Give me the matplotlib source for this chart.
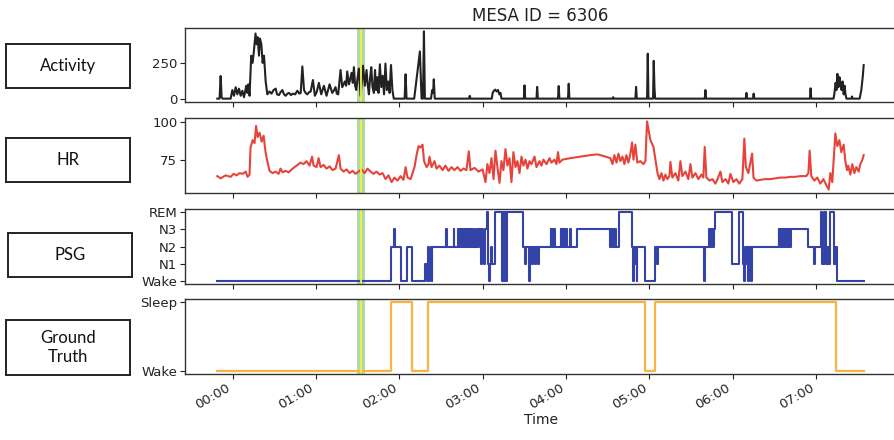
import matplotlib
matplotlib.use("Agg")
import matplotlib.pyplot as plt
from matplotlib.patches import Rectangle

# ---------------- data (time in minutes after 00:00) ----------------
title = "MESA ID = 6306"
panel_names = ["Activity", "HR", "PSG", "Ground\nTruth"]

activity_t = [-11.0, -9.4, -8.6, -7.9, -7.2, -1.4, -0.2, 1.0, 2.2, 3.4, 4.6, 5.8, 7.0, 8.2, 9.8, 10.6, 11.3, 12.2,
              13.4, 14.4, 15.3, 16.5, 17.3, 18.0, 19.0, 19.7, 20.7, 21.6, 22.6, 23.8, 25.0, 26.6, 28.0, 29.5, 31.0,
              32.0, 33.4, 34.5, 35.8, 37.0, 38.2, 39.5, 40.6, 42.0, 43.4, 45.0, 46.6, 48.0, 49.0, 50.2, 51.4, 52.5,
              53.8, 55.0, 56.2, 57.8, 59.2, 60.5, 62.1, 63.8, 65.7, 67.6, 68.7, 69.8, 71.7, 72.8, 74.1, 75.0, 76.0,
              77.7, 78.9, 80.8, 81.7, 82.5, 83.7, 84.5, 85.6, 86.5, 87.3, 88.2, 89.0, 90.0, 90.9, 92.1, 93.0, 93.8,
              95.2, 96.4, 97.2, 98.1, 99.0, 99.8, 100.7, 101.7, 102.5, 103.3, 104.2, 105.0, 106.0, 107.0, 108.0,
              109.0, 110.0, 111.0, 112.0, 113.0, 114.0, 115.0, 116.0, 123.8, 124.5, 125.2, 130.7, 134.8, 136.0,
              137.0, 137.7, 138.4, 142.8, 143.6, 144.3, 144.8, 145.5,
              170.2, 170.7, 171.2,
              186.5, 187.2, 188.0, 189.0, 190.0, 191.0, 192.0, 192.8, 193.5,
              209.6, 210.1, 210.6, 218.7, 219.2, 219.7, 234.2, 234.7, 235.2, 241.4, 241.9, 242.4,
              273.4, 273.9, 274.4, 289.9, 290.4, 290.9, 298.3, 298.8, 299.3, 302.6, 303.1, 303.6, 304.1,
              339.8, 340.3, 340.8, 369.3, 369.8, 370.3, 374.5, 375.0, 375.5, 415.5, 416.0, 416.5,
              432.5, 433.2, 434.0, 434.6, 435.3, 436.0, 436.8, 437.5, 438.3, 439.0, 439.8, 440.5, 441.1, 441.8,
              445.3, 445.8, 446.3, 451.3, 452.5, 453.5, 454.2]
activity_v = [0, 0, 158, 10, 0, 0, 60, 20, 80, 30, 70, 20, 55, 10, 90, 40, 100, 20,
              300, 250, 330, 455, 380, 430, 300, 420, 380, 250, 300, 120, 30, 50, 35, 60, 70,
              30, 25, 45, 60, 30, 20, 35, 40, 25, 35, 30, 55, 35, 40, 225, 60, 40,
              30, 45, 50, 130, 20, 45, 110, 30, 90, 20, 60, 100, 40, 55, 80, 35, 30,
              200, 80, 120, 90, 190, 100, 130, 180, 110, 220, 90, 60, 150, 210, 20, 120, 230,
              90, 200, 100, 30, 150, 220, 80, 40, 200, 60, 150, 40, 240, 80, 160,
              30, 245, 60, 120, 40, 235, 60, 0, 0, 170, 0, 0, 330, 0,
              0, 470, 0, 0, 60, 40, 135, 0,
              0, 20, 0,
              0, 40, 55, 63, 50, 60, 30, 40, 0,
              0, 93, 0, 0, 82, 0, 0, 88, 0, 0, 104, 0,
              0, 10, 0, 0, 82, 0, 0, 314, 0, 0, 264, 80, 0,
              0, 60, 0, 0, 40, 0, 0, 35, 0, 0, 72, 0,
              0, 40, 110, 60, 173, 80, 150, 100, 60, 120, 30, 90, 30, 0,
              0, 15, 0, 0, 60, 150, 234]

hr_t = [-11.0, -8.6, -5.0, -1.4, 0.7, 2.9, 5.0, 7.2, 9.4, 10.8, 12.2, 12.9, 14.4, 15.8, 16.9, 18.0, 19.4, 20.9,
        22.3, 23.7, 25.2, 26.6, 28.8, 30.9, 33.1, 34.5, 36.0, 38.1, 40.3, 43.2, 46.0, 48.9, 51.1, 53.2, 55.4,
        57.2, 58.3, 60.4, 61.9, 63.3, 65.5, 67.6, 69.8, 71.9, 74.1, 76.5, 77.7, 79.9, 82.0, 84.2, 86.3, 88.5,
        90.6, 92.8, 95.0, 97.1, 99.3, 101.4, 103.6, 105.8, 107.9, 110.1, 112.2, 114.4, 116.5, 118.7, 120.9,
        123.0, 124.5, 125.9, 128.1, 129.5, 130.9, 132.4, 133.8, 135.2, 136.7, 137.8, 139.6, 141.0, 141.7,
        143.2, 145.3, 146.8, 148.9, 151.1, 153.2, 155.4, 157.5, 159.7, 161.9, 164.0, 166.2, 168.3, 170.0,
        171.2, 174.1, 177.0, 179.9, 182.0, 183.4, 184.9, 186.3, 187.8, 189.2, 190.6, 192.1, 193.5, 194.9,
        196.4, 197.8, 199.3, 200.7, 202.1, 203.6, 205.0, 206.5, 207.9, 209.3, 210.8, 212.2, 213.7, 215.1,
        217.3, 218.7, 220.9, 222.3, 223.7, 225.9, 228.1, 229.5, 231.6, 233.1, 234.2, 235.2, 237.4, 240.3,
        243.2, 246.8, 250.4, 253.9, 257.5, 262.4, 264.7, 268.3, 271.9, 273.4, 274.8, 276.3, 277.7, 279.1,
        280.6, 282.0, 283.4, 284.9, 286.3, 287.5, 288.5, 289.9, 291.3, 293.5, 295.7, 297.1, 298.3, 299.3,
        300.7, 302.9, 304.3, 305.8, 307.2, 308.6, 310.1, 311.5, 312.9, 314.4, 315.1, 316.5, 318.7, 320.8,
        322.3, 323.7, 325.9, 328.0, 329.5, 330.9, 333.1, 335.2, 337.4, 338.8, 339.8, 341.0, 343.2, 345.3,
        347.5, 349.0, 351.1, 352.5, 354.7, 356.8, 358.3, 360.4, 362.6, 364.7, 366.9, 368.3, 369.4, 371.2,
        373.9, 374.9, 377.0, 379.9, 383.4, 387.0, 390.6, 394.2, 397.8, 401.4, 405.0, 408.6, 412.9, 414.4,
        415.3, 416.5, 418.7, 420.8, 423.0, 425.2, 427.3, 429.0, 430.2, 431.6, 433.8, 435.2, 436.7, 438.1,
        439.8, 441.0, 442.2, 443.1, 444.6, 446.0, 447.5, 448.9, 450.6, 451.8, 453.3, 454.2]
hr_v = [64, 62.5, 64.5, 63.5, 65.5, 64.5, 66, 65.5, 67, 63.5, 65, 83, 88, 86, 97.5, 90, 93, 87,
        91, 80, 73, 67.5, 66, 67, 65.5, 69, 66.5, 67.5, 66.5, 69, 71, 73, 72, 74, 71,
        77, 71, 70, 76, 70, 71.5, 69, 70.5, 68, 69, 78, 69, 67, 68.5, 66, 67.5, 65.5,
        67, 68.5, 66, 69, 67, 65.5, 67, 65, 66, 62, 64.5, 60, 63, 61, 64,
        61.5, 70, 63, 62, 66, 70, 78, 84, 83, 85, 74, 70, 72, 77,
        70, 74, 69, 71, 68, 71, 67.5, 70, 68, 70, 67.5, 69, 68, 80.5,
        68, 69.5, 67, 68.5, 60, 72, 66, 76, 62, 81, 70, 59.5, 74, 68,
        82, 71, 76, 60, 80, 70, 74, 66, 77, 71, 75, 69, 74, 72,
        77, 70, 74, 71, 75, 72, 76, 73, 75, 72, 80, 73, 75, 75.5,
        76, 76.5, 77, 77.5, 78, 78.5, 78, 77, 76, 72, 78, 73, 79, 74,
        77, 72, 78, 73, 79, 86.5, 75, 85, 73, 74, 72, 74, 100.5, 95,
        88, 83.5, 75, 66, 62, 66, 61, 65, 62, 64, 73.5, 63, 66, 61,
        74, 64, 67, 62, 72, 63, 66, 62, 65, 63, 83.5, 63, 61, 62,
        59, 62, 67, 60, 62, 59, 65.5, 60, 62, 59, 62, 89, 70, 66,
        79, 63, 61, 61.5, 62, 62, 62.5, 63, 63, 63.5, 63.5, 64, 64, 66,
        81, 64, 61, 63, 59, 62, 58, 55, 66, 60, 92.5, 84, 88, 80,
        85, 74, 68, 71, 65, 72, 66, 70, 67, 72, 75, 78]

# PSG stage changes: 0 Wake, 1 N1, 2 N2, 3 N3, 4 REM
psg_t = [-11.0, 114.2, 116.1, 117.0, 121.3, 125.2, 129.3, 138.8, 139.6, 140.3, 140.9, 141.4, 142.0, 142.6,
         143.2, 143.8, 153.9, 154.5, 159.2, 159.7, 162.1, 162.6, 164.0, 164.5, 165.2, 165.8, 166.5, 167.0,
         168.0, 168.5, 169.5, 170.0, 171.0, 171.6, 172.6, 173.1, 174.2, 174.7, 175.8, 176.3, 177.2, 178.8,
         179.4, 180.4, 180.9, 181.5, 183.2, 183.8, 184.5, 185.2, 185.8, 186.4, 189.2, 194.0, 194.8, 195.6,
         196.4, 197.0, 197.8, 209.0, 210.5, 211.1, 213.6, 214.3, 215.6, 216.2, 217.8, 218.4, 220.0, 220.6,
         228.8, 229.3, 230.0, 230.6, 231.3, 231.9, 236.0, 236.6, 237.3, 237.9, 238.6, 239.2, 240.0, 240.6,
         243.0, 243.6, 248.0, 271.9, 272.5, 273.4, 274.0, 274.6, 275.2, 275.8, 277.9, 287.5, 288.1, 288.7,
         289.5, 290.1, 290.7, 291.3, 296.6, 304.3, 305.5, 306.1, 339.1, 339.7, 342.7, 343.3, 344.0, 344.6,
         345.3, 345.9, 346.5, 347.5, 359.5, 364.2, 367.5, 368.1, 368.7, 369.5, 370.1, 371.0, 371.6, 373.3,
         373.9, 393.0, 393.6, 394.3, 394.9, 395.6, 396.2, 396.9, 397.5, 398.2, 398.8, 399.5, 400.1, 400.8,
         401.4, 402.1, 414.1, 418.6, 419.2, 423.4, 424.2, 424.8, 425.4, 426.0, 427.0, 427.6, 428.2, 428.8,
         429.4, 430.2, 432.6, 433.2, 433.8, 434.4, 435.1, 454.2]
psg_v = [0, 2, 3, 2, 0, 2, 0, 1, 0, 1, 2, 0, 1, 2,
         0, 2, 3, 2, 3, 2, 3, 2, 3, 2, 3, 2, 3, 2,
         3, 2, 3, 2, 3, 2, 3, 2, 3, 2, 3, 2, 3, 1,
         3, 2, 1, 3, 4, 1, 0, 1, 2, 1, 4, 0, 4, 0,
         4, 0, 4, 2, 1, 2, 0, 2, 1, 2, 1, 2, 1, 2,
         3, 2, 3, 2, 3, 2, 3, 2, 3, 2, 3, 2, 3, 2,
         3, 2, 3, 2, 3, 2, 3, 2, 3, 2, 4, 2, 0, 2,
         1, 2, 0, 2, 0, 2, 1, 2, 0, 2, 3, 2, 3, 2,
         3, 2, 3, 4, 1, 4, 1, 0, 2, 1, 2, 0, 2, 0,
         2, 3, 2, 3, 2, 3, 2, 3, 2, 3, 2, 3, 2, 3,
         2, 3, 2, 1, 2, 4, 1, 2, 1, 4, 1, 2, 1, 2,
         1, 4, 1, 2, 1, 2, 0, 0]
psg_labels = ["Wake", "N1", "N2", "N3", "REM"]

gt_t = [-11.0, 114.2, 129.3, 140.8, 297.1, 304.3, 434.3, 454.2]
gt_v = [0, 1, 0, 1, 0, 1, 0, 0]
gt_labels = ["Wake", "Sleep"]

highlight_start, highlight_end, highlight_mid = 89.3, 95.0, 92.1

act_ticks = [0, 250]
hr_ticks = [75, 100]
x_tick_hours = [0, 1, 2, 3, 4, 5, 6, 7]
x_tick_labels = ["00:00", "01:00", "02:00", "03:00", "04:00", "05:00", "06:00", "07:00"]

# ---------------- figure ----------------
def hours(ts):
    return [t / 60.0 for t in ts]

fig = plt.figure(figsize=(8.94, 4.40), dpi=100)
W, H = 894.0, 440.0
left, right = 185 / W, 896 / W
rows = [(28, 102), (118, 193), (209, 284), (299, 374)]
axes = []
for i, (top, bot) in enumerate(rows):
    ax = fig.add_axes([left, 1 - bot / H, right - left, (bot - top) / H],
                      sharex=axes[0] if axes else None)
    axes.append(ax)

ax1, ax2, ax3, ax4 = axes
ax1.plot(hours(activity_t), activity_v, color="#222222", lw=1.5)
ax1.set_yticks(act_ticks)
ax2.plot(hours(hr_t), hr_v, color="#e8433a", lw=1.5)
ax2.set_yticks(hr_ticks)
ax3.plot(hours(psg_t), psg_v, color="#3343a8", lw=1.5, drawstyle="steps-post")
ax3.set_yticks(range(len(psg_labels)))
ax3.set_yticklabels(psg_labels)
ax4.plot(hours(gt_t), gt_v, color="#f7b344", lw=1.6, drawstyle="steps-post")
ax4.set_yticks([0, 1])
ax4.set_yticklabels(gt_labels)

for ax in axes:
    ax.axvspan(highlight_start / 60, highlight_end / 60, color="#7cc072", alpha=0.6, lw=0)
    ax.axvline(highlight_mid / 60, color="#f4ef40", lw=1.4, alpha=0.95)
    ax.tick_params(labelsize=9.5, length=3.5, pad=2, colors="#222222")
    for s in ax.spines.values():
        s.set_color("#333333")
        s.set_linewidth(1.0)

ax4.set_xticks(x_tick_hours)
ax4.set_xticklabels(x_tick_labels, rotation=30, ha="right")
for ax in axes[:-1]:
    ax.tick_params(labelbottom=False)
ax4.set_xlabel("Time", fontsize=10, color="#222222", labelpad=1)
ax1.set_title(title, fontsize=12, color="#222222", pad=5)

# left label boxes
boxes = [(6, 44, 130, 88), (6, 138, 130, 182), (8, 233, 132, 277), (6, 320, 130, 375)]
for name, (x0, y0, x1, y1) in zip(panel_names, boxes):
    fig.add_artist(Rectangle((x0 / W, 1 - y1 / H), (x1 - x0) / W, (y1 - y0) / H,
                             transform=fig.transFigure, fill=False, edgecolor="#222222", lw=1.4))
    fig.text((x0 + x1) / 2 / W, 1 - (y0 + y1) / 2 / H, name, ha="center", va="center",
             fontsize=12, family="Lato", linespacing=1.3, color="#111111")

fig.savefig("out.png", dpi=100)
